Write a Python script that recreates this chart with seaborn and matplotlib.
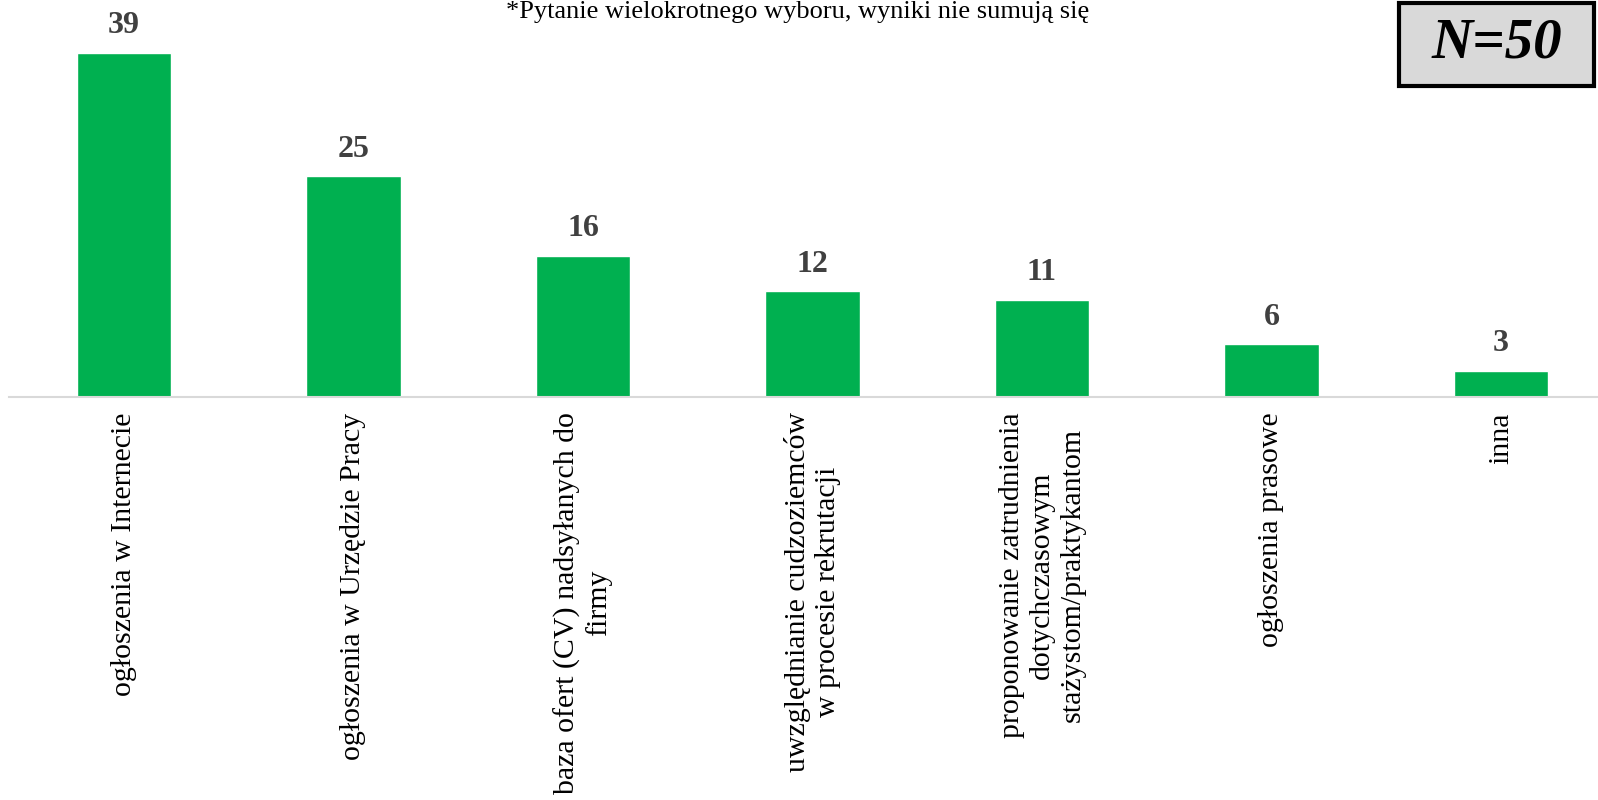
import matplotlib
matplotlib.use("Agg")
import matplotlib.pyplot as plt
import seaborn as sns
import pandas as pd
from matplotlib.patches import Rectangle

categories = [
    "ogłoszenia w Internecie",
    "ogłoszenia w Urzędzie Pracy",
    "baza ofert (CV) nadsyłanych do\nfirmy",
    "uwzględnianie cudzoziemców\nw procesie rekrutacji",
    "proponowanie zatrudnienia\ndotychczasowym\nstażystom/praktykantom",
    "ogłoszenia prasowe",
    "inna",
]
values = [39, 25, 16, 12, 11, 6, 3]
title_text = "*Pytanie wielokrotnego wyboru, wyniki nie sumują się"
n_text = "N=50"

sns.set_theme(style="white")
plt.rcParams["font.family"] = ["Liberation Serif", "DejaVu Serif"]

df = pd.DataFrame({"cat": categories, "val": values})

W, H = 1598, 800
fig = plt.figure(figsize=(W / 100, H / 100), dpi=100)
ax = fig.add_axes([9.25 / W, 1 - 397 / H, 1606.5 / W, 397 / H])
sns.barplot(data=df, x="cat", y="val", color="#00B050", saturation=1,
            width=0.41, ax=ax)
ax.set_ylim(0, 45)
ax.set_xlim(-0.5, len(categories) - 0.5)
ax.set_xlabel("")
ax.set_ylabel("")
ax.set_yticks([])
for s in ["top", "right", "left"]:
    ax.spines[s].set_visible(False)
ax.spines["bottom"].set_color("#D9D9D9")
ax.spines["bottom"].set_linewidth(1.5)
ax.tick_params(axis="x", length=0, pad=11)
ax.set_xticks(range(len(categories)))
ax.set_xticklabels(categories, rotation=90, ha="center", va="top",
                   fontsize=21.5, color="black", multialignment="center",
                   linespacing=1.22)

for i, v in enumerate(values):
    ax.annotate(str(v), (i, v), xytext=(0, 9), textcoords="offset points",
                ha="center", va="bottom", fontsize=23, fontweight="bold",
                color="#404040")

fig.text(798 / W, 1 - 18 / H, title_text, ha="center", va="baseline",
         fontsize=19, color="black")

fig.patches.append(Rectangle((1399 / W, 1 - 86 / H), 195 / W, 83 / H,
                             transform=fig.transFigure, facecolor="#D9D9D9",
                             edgecolor="black", linewidth=3, zorder=5))
fig.text(1497 / W, 1 - 43 / H, n_text, ha="center", va="center",
         fontsize=41, fontweight="bold", fontstyle="italic", color="black",
         zorder=6)

fig.savefig("out.png", dpi=100, facecolor="white")
